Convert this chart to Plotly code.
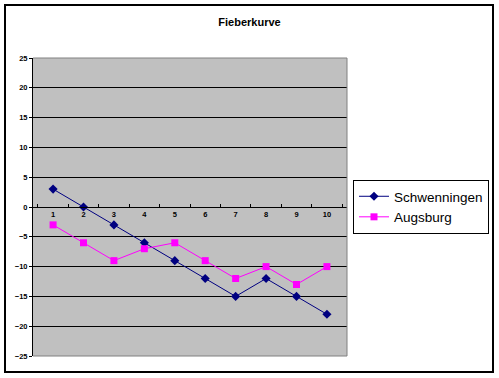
import plotly.graph_objects as go

categories = ["1", "2", "3", "4", "5", "6", "7", "8", "9", "10"]
schwenningen = [3, 0, -3, -6, -9, -12, -15, -12, -15, -18]
augsburg = [-3, -6, -9, -7, -6, -9, -12, -10, -13, -10]
y_ticks = [-25, -20, -15, -10, -5, 0, 5, 10, 15, 20, 25]

fig = go.Figure()
fig.add_trace(go.Scatter(
    x=categories, y=schwenningen, name="Schwenningen", mode="lines+markers",
    line=dict(color="#000080", width=1),
    marker=dict(symbol="diamond", size=7, color="#000080"),
))
fig.add_trace(go.Scatter(
    x=categories, y=augsburg, name="Augsburg", mode="lines+markers",
    line=dict(color="#FF00FF", width=1),
    marker=dict(symbol="square", size=7, color="#FF00FF"),
))

W, H = 499, 378
L, R, T, B = 33, 347, 58, 356
pw, ph = R - L, B - T

def px_x(x):
    return (x - L) / pw

def px_y(y):
    return (B - y) / ph

tick_font = dict(size=7.5, family="Arial", color="black", weight="bold")

fig.update_layout(
    width=W, height=H,
    margin=dict(l=L, r=W - R, t=T, b=H - B, autoexpand=False),
    paper_bgcolor="white",
    plot_bgcolor="#C0C0C0",
    font=dict(family="Arial", color="black"),
    title=dict(text="<b>Fieberkurve</b>", x=0.5, xref="container", xanchor="center",
               y=1 - 22 / H, yref="container", yanchor="middle",
               font=dict(size=11, family="Arial", color="black")),
    showlegend=True,
    legend=dict(x=px_x(489), y=px_y(207), xanchor="right", yanchor="middle",
                bordercolor="black", borderwidth=1, bgcolor="white",
                font=dict(size=13.5, family="Arial", color="black"),
                tracegroupgap=0, itemwidth=30),
    xaxis=dict(type="category", anchor="free", position=0.5,
               showline=True, linecolor="black", linewidth=1,
               ticks="inside", ticklen=3, tickcolor="black", tickson="boundaries",
               showgrid=False, zeroline=False, tickfont=tick_font),
    yaxis=dict(range=[-25, 25], tickvals=y_ticks, showline=True, linecolor="black",
               linewidth=1, ticks="outside", ticklen=3, tickcolor="black",
               showgrid=True, gridcolor="black", gridwidth=1, zeroline=False,
               tickfont=tick_font),
    shapes=[
        dict(type="line", xref="paper", yref="paper", x0=0, x1=1, y0=1, y1=1,
             line=dict(color="#808080", width=1), layer="above"),
        dict(type="line", xref="paper", yref="paper", x0=0, x1=1, y0=0, y1=0,
             line=dict(color="#808080", width=1), layer="above"),
        dict(type="line", xref="paper", yref="paper", x0=1, x1=1, y0=0, y1=1,
             line=dict(color="#808080", width=1), layer="above"),
        dict(type="rect", xref="paper", yref="paper",
             x0=px_x(5), x1=px_x(493), y0=px_y(372), y1=px_y(5),
             line=dict(color="black", width=2), layer="above"),
    ],
)

fig.write_html("out.html", config={"displayModeBar": False},
               post_script="document.body.style.margin='0';document.body.style.overflow='hidden';")
